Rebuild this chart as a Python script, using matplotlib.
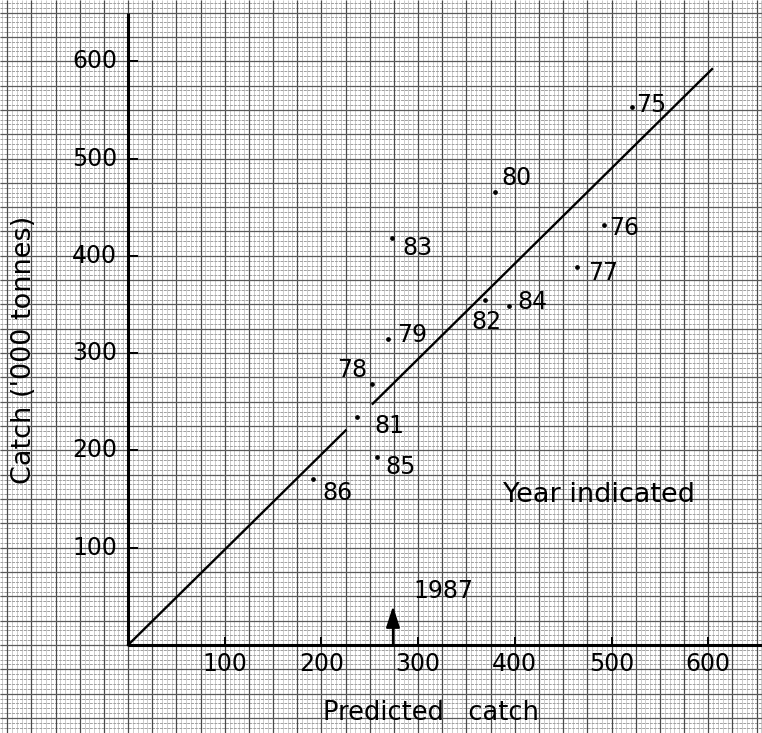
import numpy as np
import matplotlib
matplotlib.use("Agg")
import matplotlib.pyplot as plt

plt.rcParams["font.family"] = ["DejaVu Sans"]

# data ('000 tonnes)
years     = ["75", "76", "77", "78", "79", "80", "81", "82", "83", "84", "85", "86"]
predicted = [521, 492, 464, 252, 269, 380, 237, 369, 273, 394, 257, 191]
actual    = [553, 432, 388, 268, 314, 466, 234, 355, 418, 348, 193, 171]

# label placement next to each dot (pixels), and alignment
label_dx = [4, 5, 11, -4, 9, 6, 17, -13, 10, 8, 9, 10]
label_dy = [2, -3, -6, 14, 4, 14, -9, -22, -10, 4, -10, -14]
label_ha = ["left", "left", "left", "right", "left", "left", "left", "left", "left", "left", "left", "left"]

fit_slope    = 0.98
fit_segments = [(0, 225), (253, 604)]

forecast_year  = "1987"
forecast_value = 274
forecast_tip   = 40

ticks = [100, 200, 300, 400, 500, 600]

XLIM = (-132.4, 655.6)
YLIM = (-90.4, 662.9)
Y_AXIS_TOP = 649.5

fig = plt.figure(figsize=(7.62, 7.33), dpi=100)
ax = fig.add_axes([0, 0, 1, 1])
ax.set_xlim(*XLIM)
ax.set_ylim(*YLIM)
ax.axis("off")

# graph paper
fine_x = np.arange(-130, 660, 5)
fine_y = np.arange(-90, 665, 5)
ax.vlines(fine_x, *YLIM, color="#c4c4c4", lw=0.6, zorder=0)
ax.hlines(fine_y, *XLIM, color="#a0a0a0", lw=0.7, ls=(0, (3, 1)), zorder=0)
major_x = np.arange(-125, 660, 25)
major_y = np.arange(-75, 665, 25)
ax.vlines(major_x, *YLIM, color="#4a4a4a", lw=0.9, zorder=0)
ax.hlines(major_y, *XLIM, color="#5a5a5a", lw=0.9, zorder=0)

# axes
ax.plot([0, 0], [0, Y_AXIS_TOP], color="black", lw=2.2, zorder=3, solid_capstyle="butt")
ax.plot([0, XLIM[1]], [0, 0], color="black", lw=2.2, zorder=3, solid_capstyle="butt")
ax.plot(ticks, np.zeros(len(ticks)), ls="none", marker=2, ms=6, mew=1.4, color="black", zorder=3)
ax.plot(np.zeros(len(ticks)), ticks, ls="none", marker=1, ms=7, mew=1.4, color="black", zorder=3)

for t in ticks:
    ax.annotate(str(t), (t, 0), xytext=(0, -7), textcoords="offset pixels",
                ha="center", va="top", fontsize=17, zorder=4)
    ax.annotate(str(t), (0, t), xytext=(-11, 0), textcoords="offset pixels",
                ha="right", va="center", fontsize=17, zorder=4)

# fitted line (broken where the labels sit)
for x0, x1 in fit_segments:
    ax.plot([x0, x1], [fit_slope * x0, fit_slope * x1], color="black", lw=1.7, zorder=3)

# yearly points
ax.plot(predicted, actual, ls="none", marker="o", ms=2.4, color="black", zorder=4)
for yr, px, py, dx, dy, ha in zip(years, predicted, actual, label_dx, label_dy, label_ha):
    ax.annotate(yr, (px, py), xytext=(dx, dy), textcoords="offset pixels",
                ha=ha, va="center", fontsize=17, zorder=4)

# forecast arrow
ax.annotate("", xy=(forecast_value, forecast_tip), xytext=(forecast_value, 0),
            arrowprops=dict(arrowstyle="-|>,head_length=1.3,head_width=0.42",
                            color="black", lw=1.6, shrinkA=0, shrinkB=0), zorder=4)
ax.annotate(forecast_year, (forecast_value, forecast_tip), xytext=(20, 15),
            textcoords="offset pixels", ha="left", va="center", fontsize=17, zorder=4)

ax.text(387.8, 154, "Year indicated", ha="left", va="center", fontsize=19.5, zorder=4)
ax.text(312.8, -69.9, "Predicted   catch", ha="center", va="center", fontsize=18.5, zorder=4)
ax.text(-107.5, 303, "Catch ('000 tonnes)", ha="center", va="center",
        rotation=90, fontsize=19.5, zorder=4)

fig.savefig("out.png", dpi=100, facecolor="white")
